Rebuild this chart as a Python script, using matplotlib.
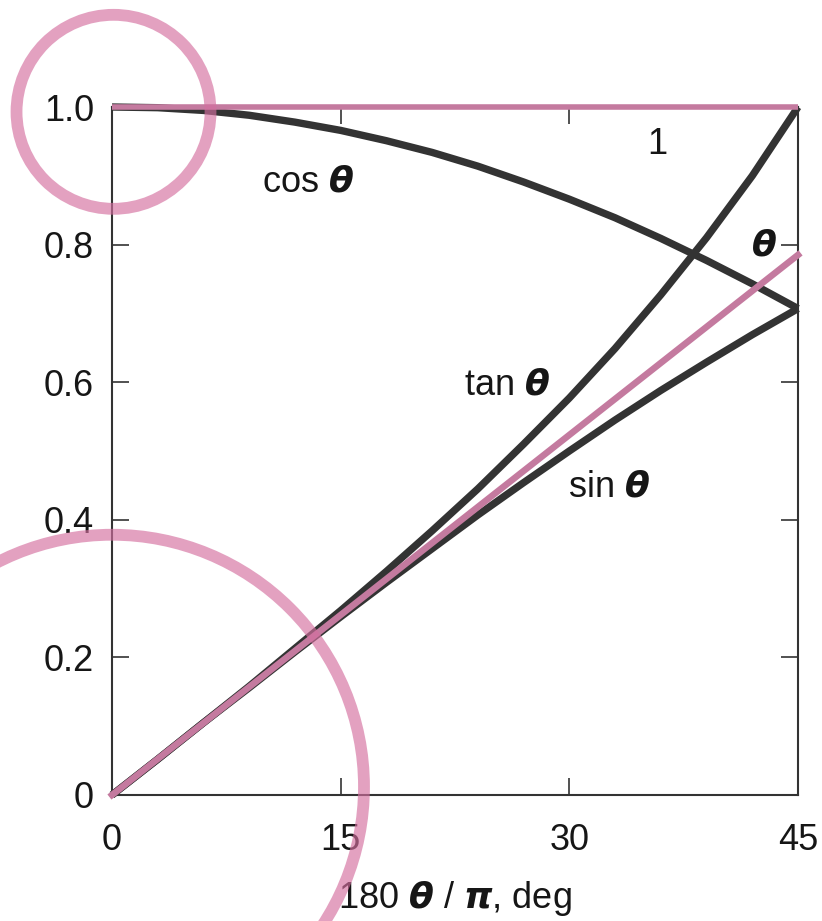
import numpy as np
import matplotlib
matplotlib.use("Agg")
import matplotlib.pyplot as plt
from matplotlib.patches import Circle
from matplotlib.transforms import ScaledTranslation

plt.rcParams['font.family'] = ['Liberation Sans', 'DejaVu Sans']
plt.rcParams['mathtext.fontset'] = 'custom'
plt.rcParams['mathtext.it'] = 'DejaVu Sans:italic:bold'
plt.rcParams['mathtext.rm'] = 'Liberation Sans'

# angle in degrees and the small-angle functions
deg = [0, 3, 6, 9, 12, 15, 18, 21, 24, 27, 30, 33, 36, 39, 42, 45]
cos_vals = [1.0, 0.999, 0.995, 0.988, 0.978, 0.966, 0.951, 0.934,
            0.914, 0.891, 0.866, 0.839, 0.809, 0.777, 0.743, 0.707]
sin_vals = [0.0, 0.052, 0.105, 0.156, 0.208, 0.259, 0.309, 0.358,
            0.407, 0.454, 0.500, 0.545, 0.588, 0.629, 0.669, 0.707]
tan_vals = [0.0, 0.052, 0.105, 0.158, 0.213, 0.268, 0.325, 0.384,
            0.445, 0.510, 0.577, 0.649, 0.727, 0.810, 0.900, 1.0]
line_deg = [0, 45]
theta_vals = [0.0, 0.785]
one_vals = [1.0, 1.0]

xticks = [0, 15, 30, 45]
xticklabels = ['0', '15', '30', '45']
yticks = [0, 0.2, 0.4, 0.6, 0.8, 1.0]
yticklabels = ['0', '0.2', '0.4', '0.6', '0.8', '1.0']

DARK = '#333333'
PINK = '#c47a9f'
RING = '#d46f9f'
TXT = '#161616'

fig = plt.figure(figsize=(8.22, 9.21), dpi=100)
ax = fig.add_axes([0.13625, 0.13681, 0.83455, 0.74701])

for y in (cos_vals, sin_vals, tan_vals):
    ax.plot(deg, y, color=DARK, lw=5.3, solid_capstyle='butt',
            solid_joinstyle='round', clip_on=False, zorder=3)
ax.plot(line_deg, theta_vals, color=PINK, lw=4.7, clip_on=False, zorder=4)
ax.plot(line_deg, one_vals, color=PINK, lw=4, solid_capstyle='butt', clip_on=False, zorder=4)

ax.set_xlim(0, 45)
ax.set_ylim(0, 1)
ax.set_xticks(xticks, xticklabels)
ax.set_yticks(yticks, yticklabels)
ax.tick_params(direction='in', length=12, width=1.2, color=DARK,
               top=True, right=True, labelsize=26, labelcolor=TXT)
ax.tick_params(axis='x', pad=20)
ax.tick_params(axis='y', pad=13)
for s in ax.spines.values():
    s.set_color(DARK)
    s.set_linewidth(1.5)

ax.set_xlabel(r'180 $\theta$ / $\pi$, deg', fontsize=26, color=TXT, labelpad=15)

lab = dict(fontsize=26, color=TXT, ha='center', va='center', zorder=5)
ax.text(12.86, 0.891, r'cos $\theta$', **lab)
ax.text(25.9, 0.596, r'tan $\theta$', **lab)
ax.text(32.6, 0.448, r'sin $\theta$', **lab)
ax.text(35.75, 0.945, '1', **lab)
ax.text(42.77, 0.798, r'$\theta$', **lab)

# highlight rings around the two limits (sizes in inches)
for cx, cy, r in [(0.1, 0.993, 0.97), (0.0, 0.012, 2.52)]:
    tr = fig.dpi_scale_trans + ScaledTranslation(cx, cy, ax.transData)
    ring = Circle((0, 0), r, transform=tr, fill=False, ec=RING, lw=8.5,
                  alpha=0.65, clip_on=False, zorder=6)
    fig.add_artist(ring)

fig.savefig('out.png', dpi=100)
